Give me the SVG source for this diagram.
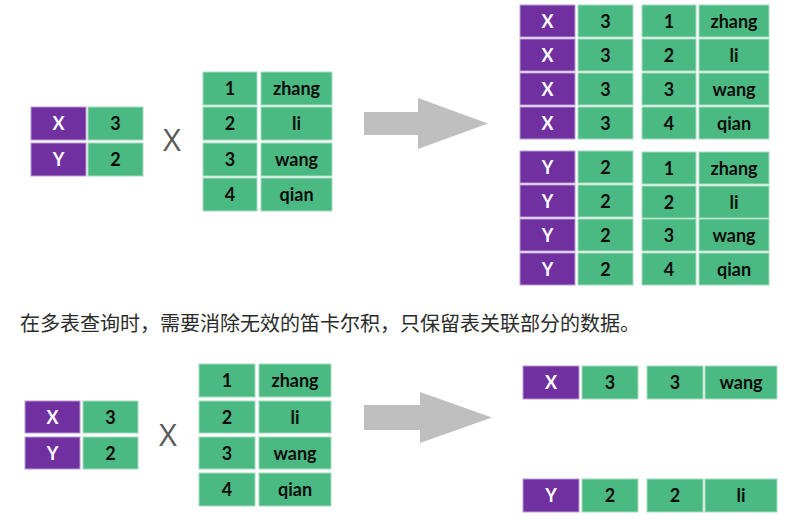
<svg xmlns="http://www.w3.org/2000/svg" width="787" height="520" viewBox="0 0 787 520">
<style>
.p{fill:#7030A0;stroke:#b89ad0;stroke-width:1}
.g{fill:#4AB982;stroke:#a6dcc0;stroke-width:1}
.t{font-family:Lato,"Open Sans","Liberation Sans",sans-serif;font-weight:bold;font-size:18px;text-anchor:middle}
.w{fill:#ffffff}
.k{fill:#0d0d0d}
.op{font-family:"Open Sans","Liberation Sans",sans-serif;font-size:31px;fill:#595959;text-anchor:middle}
.arr{fill:#BFBFBF}
.cap{font-family:"Noto Sans CJK SC","Noto Sans",sans-serif;font-size:20px;fill:#2b2b2b}
</style>
<rect width="787" height="520" fill="#ffffff"/>

<!-- Top section -->
<g id="top-left-table">
<rect class="p" x="31" y="107" width="55" height="33"/><text class="t w" x="58.5" y="130">X</text>
<rect class="g" x="88" y="107" width="55" height="33"/><text class="t k" x="115.5" y="130">3</text>
<rect class="p" x="31" y="143" width="55" height="33"/><text class="t w" x="58.5" y="166">Y</text>
<rect class="g" x="88" y="143" width="55" height="33"/><text class="t k" x="115.5" y="166">2</text>
</g>
<g id="top-op"><text class="op" x="172" y="151">X</text></g>
<g id="top-right-table">
<rect class="g" x="203" y="72" width="54" height="33"/><text class="t k" x="230" y="95">1</text>
<rect class="g" x="261" y="72" width="71" height="33"/><text class="t k" x="296.5" y="95">zhang</text>
<rect class="g" x="203" y="107" width="54" height="33"/><text class="t k" x="230" y="130">2</text>
<rect class="g" x="261" y="107" width="71" height="33"/><text class="t k" x="296.5" y="130">li</text>
<rect class="g" x="203" y="143" width="54" height="33"/><text class="t k" x="230" y="166">3</text>
<rect class="g" x="261" y="143" width="71" height="33"/><text class="t k" x="296.5" y="166">wang</text>
<rect class="g" x="203" y="178" width="54" height="33"/><text class="t k" x="230" y="201">4</text>
<rect class="g" x="261" y="178" width="71" height="33"/><text class="t k" x="296.5" y="201">qian</text>
</g>

<g id="result-x">
<rect class="p" x="520" y="5" width="55" height="32"/><text class="t w" x="547.5" y="27.5">X</text>
<rect class="g" x="578" y="5" width="55" height="32"/><text class="t k" x="605.5" y="27.5">3</text>
<rect class="p" x="520" y="39" width="55" height="32"/><text class="t w" x="547.5" y="61.5">X</text>
<rect class="g" x="578" y="39" width="55" height="32"/><text class="t k" x="605.5" y="61.5">3</text>
<rect class="p" x="520" y="73" width="55" height="32"/><text class="t w" x="547.5" y="95.5">X</text>
<rect class="g" x="578" y="73" width="55" height="32"/><text class="t k" x="605.5" y="95.5">3</text>
<rect class="p" x="520" y="107" width="55" height="32"/><text class="t w" x="547.5" y="129.5">X</text>
<rect class="g" x="578" y="107" width="55" height="32"/><text class="t k" x="605.5" y="129.5">3</text>
<rect class="g" x="642" y="5" width="54" height="32"/><text class="t k" x="669" y="27.5">1</text>
<rect class="g" x="699" y="5" width="70" height="32"/><text class="t k" x="734" y="27.5">zhang</text>
<rect class="g" x="642" y="39" width="54" height="32"/><text class="t k" x="669" y="61.5">2</text>
<rect class="g" x="699" y="39" width="70" height="32"/><text class="t k" x="734" y="61.5">li</text>
<rect class="g" x="642" y="73" width="54" height="32"/><text class="t k" x="669" y="95.5">3</text>
<rect class="g" x="699" y="73" width="70" height="32"/><text class="t k" x="734" y="95.5">wang</text>
<rect class="g" x="642" y="107" width="54" height="32"/><text class="t k" x="669" y="129.5">4</text>
<rect class="g" x="699" y="107" width="70" height="32"/><text class="t k" x="734" y="129.5">qian</text>
</g>

<g id="result-y">
<rect class="p" x="520" y="151" width="55" height="32"/><text class="t w" x="547.5" y="173.5">Y</text>
<rect class="g" x="578" y="151" width="55" height="32"/><text class="t k" x="605.5" y="173.5">2</text>
<rect class="p" x="520" y="185" width="55" height="32"/><text class="t w" x="547.5" y="207.5">Y</text>
<rect class="g" x="578" y="185" width="55" height="32"/><text class="t k" x="605.5" y="207.5">2</text>
<rect class="p" x="520" y="219" width="55" height="32"/><text class="t w" x="547.5" y="241.5">Y</text>
<rect class="g" x="578" y="219" width="55" height="32"/><text class="t k" x="605.5" y="241.5">2</text>
<rect class="p" x="520" y="253" width="55" height="32"/><text class="t w" x="547.5" y="275.5">Y</text>
<rect class="g" x="578" y="253" width="55" height="32"/><text class="t k" x="605.5" y="275.5">2</text>
<rect class="g" x="642" y="152" width="54" height="32"/><text class="t k" x="669" y="174.5">1</text>
<rect class="g" x="699" y="152" width="70" height="32"/><text class="t k" x="734" y="174.5">zhang</text>
<rect class="g" x="642" y="186" width="54" height="32"/><text class="t k" x="669" y="208.5">2</text>
<rect class="g" x="699" y="186" width="70" height="32"/><text class="t k" x="734" y="208.5">li</text>
<rect class="g" x="642" y="219" width="54" height="32"/><text class="t k" x="669" y="241.5">3</text>
<rect class="g" x="699" y="219" width="70" height="32"/><text class="t k" x="734" y="241.5">wang</text>
<rect class="g" x="642" y="253" width="54" height="32"/><text class="t k" x="669" y="275.5">4</text>
<rect class="g" x="699" y="253" width="70" height="32"/><text class="t k" x="734" y="275.5">qian</text>
</g>

<g id="caption"><text class="cap" x="20" y="331">在多表查询时，需要消除无效的笛卡尔积，只保留表关联部分的数据。</text></g>

<!-- Bottom section -->
<g id="bottom-left-table">
<rect class="p" x="25" y="401" width="55" height="32"/><text class="t w" x="52.5" y="423.5">X</text>
<rect class="g" x="83" y="401" width="55" height="32"/><text class="t k" x="110.5" y="423.5">3</text>
<rect class="p" x="25" y="437" width="55" height="32"/><text class="t w" x="52.5" y="459.5">Y</text>
<rect class="g" x="83" y="437" width="55" height="32"/><text class="t k" x="110.5" y="459.5">2</text>
</g>
<g id="bottom-op"><text class="op" x="168" y="446">X</text></g>
<g id="bottom-right-table">
<rect class="g" x="199" y="364" width="56" height="33"/><text class="t k" x="227" y="387">1</text>
<rect class="g" x="259" y="364" width="72" height="33"/><text class="t k" x="295" y="387">zhang</text>
<rect class="g" x="199" y="401" width="56" height="32"/><text class="t k" x="227" y="423.5">2</text>
<rect class="g" x="259" y="401" width="72" height="32"/><text class="t k" x="295" y="423.5">li</text>
<rect class="g" x="199" y="437" width="56" height="32"/><text class="t k" x="227" y="459.5">3</text>
<rect class="g" x="259" y="437" width="72" height="32"/><text class="t k" x="295" y="459.5">wang</text>
<rect class="g" x="199" y="473" width="56" height="33"/><text class="t k" x="227" y="496">4</text>
<rect class="g" x="259" y="473" width="72" height="33"/><text class="t k" x="295" y="496">qian</text>
</g>

<g id="join-row-x">
<rect class="p" x="523" y="366" width="56" height="33"/><text class="t w" x="551" y="389">X</text>
<rect class="g" x="582" y="366" width="56" height="33"/><text class="t k" x="610" y="389">3</text>
<rect class="g" x="647" y="366" width="56" height="33"/><text class="t k" x="675" y="389">3</text>
<rect class="g" x="705" y="366" width="72" height="33"/><text class="t k" x="741" y="389">wang</text>
</g>
<g id="join-row-y">
<rect class="p" x="523" y="479" width="56" height="33"/><text class="t w" x="551" y="502">Y</text>
<rect class="g" x="582" y="479" width="56" height="33"/><text class="t k" x="610" y="502">2</text>
<rect class="g" x="647" y="479" width="56" height="33"/><text class="t k" x="675" y="502">2</text>
<rect class="g" x="705" y="479" width="72" height="33"/><text class="t k" x="741" y="502">li</text>
</g>

<g id="connectors">
<polygon class="arr" points="364,112 418,112 418,98 488,123.5 418,149 418,135 364,135"/>
<polygon class="arr" points="364,405 420,405 420,392 492,417.5 420,443 420,430 364,430"/>
</g>
</svg>
